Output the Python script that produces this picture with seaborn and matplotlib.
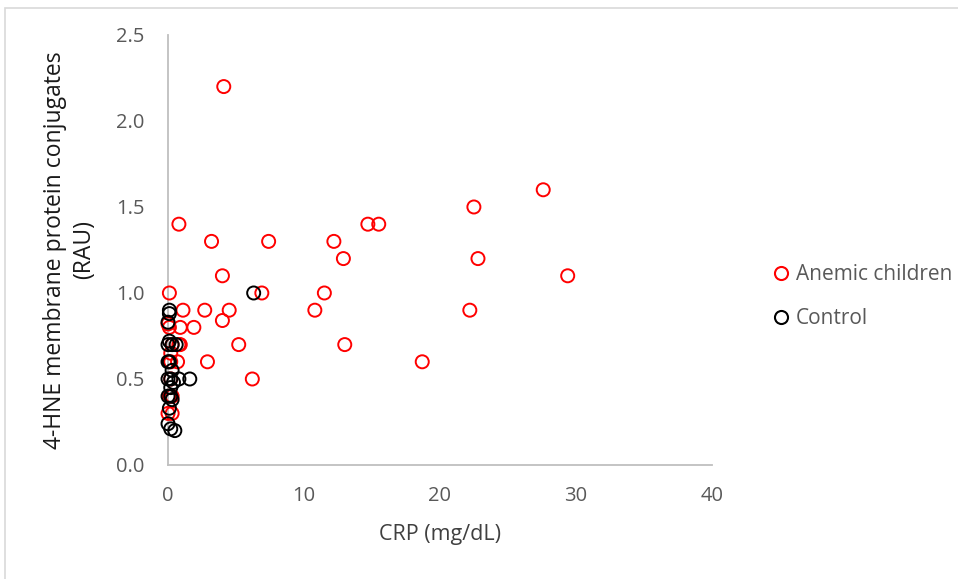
import matplotlib
matplotlib.use("Agg")
import matplotlib.pyplot as plt
from matplotlib.patches import Rectangle
from matplotlib.lines import Line2D
import seaborn as sns

# CRP (mg/dL) and 4-HNE membrane protein conjugates (RAU) per child
crp_anemic = [4.1, 0.8, 3.2, 7.4, 12.2, 14.7, 15.5, 22.5, 27.6, 12.9,
              22.8, 4.0, 29.4, 0.1, 6.9, 11.5, 10.8, 22.2, 1.1, 2.7,
              4.5, 4.0, 0.1, 0.9, 1.9, 0.0, 0.3, 0.8, 0.9, 5.2,
              13.0, 0.2, 0.7, 2.9, 18.7, 0.2, 6.2, 0.1, 0.3, 0.0,
              0.3, 0.2]
hne_anemic = [2.2, 1.4, 1.3, 1.3, 1.3, 1.4, 1.4, 1.5, 1.6, 1.2,
              1.2, 1.1, 1.1, 1.0, 1.0, 1.0, 0.9, 0.9, 0.9, 0.9,
              0.9, 0.84, 0.8, 0.8, 0.8, 0.82, 0.7, 0.7, 0.7, 0.7,
              0.7, 0.6, 0.6, 0.6, 0.6, 0.5, 0.5, 0.4, 0.4, 0.3,
              0.3, 0.65]

crp_control = [6.3, 0.1, 0.1, 0.0, 0.0, 0.1, 0.3, 0.6, 0.0, 0.1,
               0.0, 0.2, 0.4, 0.8, 1.6, 0.0, 0.2, 0.3, 0.1, 0.0,
               0.2, 0.5, 0.3, 0.2]
hne_control = [1.0, 0.9, 0.88, 0.83, 0.7, 0.72, 0.7, 0.7, 0.6, 0.6,
               0.5, 0.5, 0.48, 0.5, 0.5, 0.4, 0.4, 0.38, 0.33, 0.24,
               0.21, 0.2, 0.55, 0.45]

x_ticks = [0, 10, 20, 30, 40]
y_ticks = [0.0, 0.5, 1.0, 1.5, 2.0, 2.5]
group_names = ["Anemic children", "Control"]
group_colors = ["#ff0000", "#000000"]

sns.set_style("white")
plt.rcParams["font.family"] = ["Open Sans", "DejaVu Sans"]

fig = plt.figure(figsize=(9.58, 5.79), dpi=100)
ax = fig.add_axes([0.1754, 0.1969, 0.5676, 0.7427])

# light chart-area border
fig.patches.append(Rectangle((5 / 958, -0.05), 1.2, 1 - 8 / 579 + 0.05,
                             transform=fig.transFigure, fill=False,
                             edgecolor="#d9d9d9", linewidth=1.2, zorder=0))

for xs, ys, col in [(crp_anemic, hne_anemic, group_colors[0]),
                    (crp_control, hne_control, group_colors[1])]:
    sns.scatterplot(x=xs, y=ys, ax=ax, marker="o", s=88,
                    facecolor="none", edgecolor=col, linewidth=1.4,
                    legend=False, zorder=3)

ax.set_xlim(0, 40)
ax.set_ylim(0, 2.5)
ax.set_xticks(x_ticks)
ax.set_yticks(y_ticks)
ax.set_xticklabels([str(v) for v in x_ticks])
ax.set_yticklabels([f"{v:.1f}" for v in y_ticks])

for side in ["top", "right"]:
    ax.spines[side].set_visible(False)
for side in ["left", "bottom"]:
    ax.spines[side].set_color("#bfbfbf")
    ax.spines[side].set_linewidth(1.3)
ax.tick_params(axis="both", which="both", length=5, width=1.3,
               color="#bfbfbf", labelcolor="#595959", labelsize=14.5,
               direction="out")
ax.tick_params(axis="y", pad=12)
ax.tick_params(axis="x", pad=10)
for c in ax.collections:
    c.set_clip_on(False)

ax.set_xlabel("CRP (mg/dL)", fontsize=15.5, color="#404040")
ax.xaxis.set_label_coords(0.5, -0.138)
ax.set_ylabel("4-HNE membrane protein conjugates\n(RAU)", fontsize=16.5,
              color="#1a1a1a", linespacing=1.3, fontweight="medium")
ax.yaxis.set_label_coords(-0.132, 0.5)

handles = [Line2D([], [], linestyle="none", marker="o", markersize=9.4,
                  markerfacecolor="none", markeredgecolor=c,
                  markeredgewidth=1.5) for c in group_colors]
leg = fig.legend(handles, group_names, loc="center left",
                 bbox_to_anchor=(0.793, 0.4875), frameon=False, fontsize=15,
                 borderpad=0, handletextpad=0.22, labelspacing=1.1,
                 handlelength=1.0)
for t in leg.get_texts():
    t.set_color("#595959")

fig.savefig("out.png", dpi=100)
